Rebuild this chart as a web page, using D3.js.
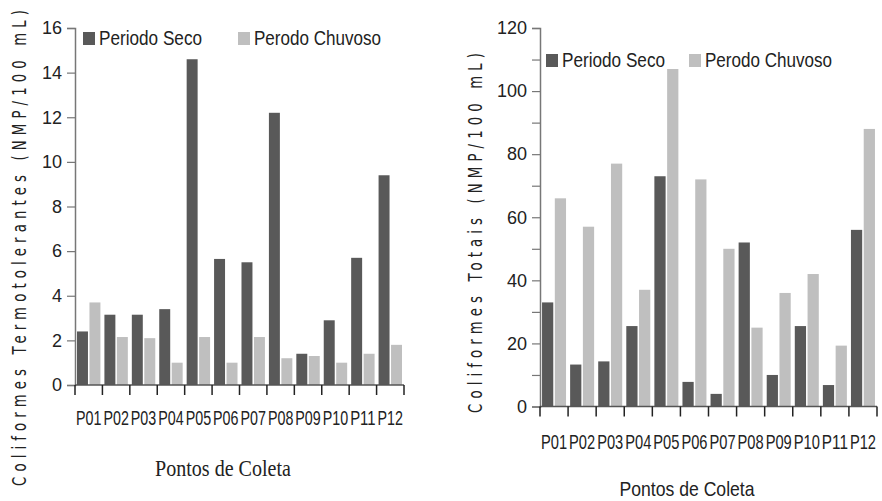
<!DOCTYPE html>
<html>
<head>
<meta charset="utf-8">
<script src="https://cdn.jsdelivr.net/npm/d3@7"></script>
<style>
  body { margin: 0; background: #fff; }
  .tick text { font-family: "Liberation Sans Narrow", "Liberation Sans", sans-serif; fill: #222; }
</style>
</head>
<body>
<svg id="chart" width="882" height="501"></svg>
<script>
// data
var pontos = ["P01","P02","P03","P04","P05","P06","P07","P08","P09","P10","P11","P12"];
var seriesNames = ["Periodo Seco", "Perodo Chuvoso"];
var termoSeco    = [2.4, 3.15, 3.15, 3.4, 14.6, 5.65, 5.5, 12.2, 1.4, 2.9, 5.7, 9.4];
var termoChuvoso = [3.7, 2.15, 2.1, 1.0, 2.15, 1.0, 2.15, 1.2, 1.3, 1.0, 1.4, 1.8];
var totaisSeco    = [33, 13.3, 14.3, 25.5, 73, 7.8, 4, 52, 10, 25.5, 6.8, 56];
var totaisChuvoso = [66, 57, 77, 37, 107, 72, 50, 25, 36, 42, 19.3, 88];
var termoTicks = [0, 2, 4, 6, 8, 10, 12, 14, 16];
var totaisTicks = [0, 10, 20, 30, 40, 50, 60, 70, 80, 90, 100, 110, 120];

var colors = ["#595959", "#bfbfbf"];
var svg = d3.select("#chart");

function drawBarChart(cfg) {
    var g = svg.append("g");

    var x = d3.scaleBand().domain(pontos).range([cfg.left, cfg.right]);
    var y = d3.scaleLinear().domain([0, cfg.max]).range([cfg.bottom, cfg.top]);
    var inner = d3.scaleBand().domain([0, 1])
        .range([0, x.bandwidth()]).paddingInner(0.12).paddingOuter(0.16);

    // bars
    [cfg.seco, cfg.chuvoso].forEach(function(vals, s) {
        g.append("g").selectAll("rect")
            .data(vals)
            .enter().append("rect")
            .attr("x", function(d, i) { return x(pontos[i]) + inner(s); })
            .attr("width", inner.bandwidth())
            .attr("y", function(d) { return y(d); })
            .attr("height", function(d) { return cfg.bottom - y(d); })
            .style("fill", colors[s]);
    });

    // y axis
    var yAxis = d3.axisLeft(y).tickValues(cfg.ticks).tickSize(8).tickPadding(5)
        .tickFormat(function(d) { return cfg.labelled(d) ? d : ""; });
    var ya = g.append("g")
        .attr("transform", "translate(" + cfg.left + ",0)")
        .call(yAxis);
    ya.select(".domain").attr("stroke", "#777").attr("stroke-width", 1.5);
    ya.selectAll(".tick line").attr("stroke", "#777").attr("stroke-width", 1.2);
    ya.selectAll(".tick text").style("font-size", "18px");

    // x axis
    var edges = pontos.map(function(p) { return x(p); }).concat([cfg.right]);
    g.append("line")
        .attr("x1", cfg.left).attr("x2", cfg.right)
        .attr("y1", cfg.bottom).attr("y2", cfg.bottom)
        .attr("stroke", "#555").attr("stroke-width", 1.5);
    g.append("g").selectAll("line")
        .data(edges)
        .enter().append("line")
        .attr("x1", function(d) { return d; }).attr("x2", function(d) { return d; })
        .attr("y1", cfg.bottom).attr("y2", cfg.bottom + 10)
        .attr("stroke", "#222").attr("stroke-width", 1.5);
    g.append("g").selectAll("text")
        .data(pontos)
        .enter().append("text")
        .attr("x", function(d) { return x(d) + x.bandwidth() / 2; })
        .attr("y", cfg.labelY)
        .attr("text-anchor", "middle")
        .attr("textLength", x.bandwidth() - 2)
        .attr("lengthAdjust", "spacingAndGlyphs")
        .style("font-family", "'Liberation Sans Narrow', 'Liberation Sans', sans-serif")
        .style("font-size", cfg.labelSize)
        .style("fill", "#222")
        .text(function(d) { return d; });

    // x title
    g.append("text")
        .attr("x", cfg.xTitleX).attr("y", cfg.xTitleY)
        .attr("text-anchor", "middle")
        .attr("textLength", cfg.xTitleLen)
        .attr("lengthAdjust", "spacingAndGlyphs")
        .style("font-family", cfg.xTitleFont)
        .style("font-size", cfg.xTitleSize)
        .style("fill", "#222")
        .text("Pontos de Coleta");

    // y title, glyphs squeezed along the text as in the reference
    g.append("text")
        .attr("transform", "translate(" + cfg.yTitleX + "," + cfg.yTitleY + ") rotate(-90) scale(0.7,1)")
        .attr("text-anchor", "middle")
        .attr("textLength", cfg.yTitleLen / 0.7)
        .attr("lengthAdjust", "spacing")
        .style("font-family", "'DejaVu Sans', Verdana, sans-serif")
        .style("font-size", "19px")
        .style("fill", "#222")
        .text(cfg.yTitle);

    // legend
    var legend = g.append("g").selectAll("g")
        .data(seriesNames)
        .enter().append("g")
        .attr("transform", function(d, i) { return "translate(" + cfg.legendX[i] + "," + cfg.legendY + ")"; });
    legend.append("rect")
        .attr("x", 0).attr("y", -13)
        .attr("width", 12).attr("height", 13)
        .style("fill", function(d, i) { return colors[i]; });
    legend.append("text")
        .attr("x", 16).attr("y", 0)
        .attr("textLength", function(d, i) { return cfg.legendLen[i]; })
        .attr("lengthAdjust", "spacingAndGlyphs")
        .style("font-family", "'Liberation Sans Narrow', 'Liberation Sans', sans-serif")
        .style("font-size", "20px")
        .style("fill", "#222")
        .text(function(d) { return d; });
}

drawBarChart({
    left: 75, right: 404, top: 28, bottom: 385, max: 16,
    seco: termoSeco, chuvoso: termoChuvoso, ticks: termoTicks,
    labelled: function() { return true; },
    labelY: 425, labelSize: "20px",
    xTitleX: 223, xTitleY: 476, xTitleLen: 136, xTitleSize: "23px",
    xTitleFont: "'Liberation Serif', serif",
    yTitle: "Coliformes Termotolerantes  (NMP/100 mL)",
    yTitleX: 26, yTitleY: 248, yTitleLen: 476,
    legendX: [83, 238], legendY: 45, legendLen: [103, 127]
});

drawBarChart({
    left: 540, right: 877, top: 28, bottom: 406.5, max: 120,
    seco: totaisSeco, chuvoso: totaisChuvoso, ticks: totaisTicks,
    labelled: function(d) { return d % 20 === 0; },
    labelY: 449, labelSize: "21px",
    xTitleX: 687, xTitleY: 496, xTitleLen: 135, xTitleSize: "21px",
    xTitleFont: "'Liberation Sans Narrow', 'Liberation Sans', sans-serif",
    yTitle: "Coliformes Totais (NMP/100 mL)",
    yTitleX: 482, yTitleY: 233, yTitleLen: 360,
    legendX: [546, 689], legendY: 67, legendLen: [103, 127]
});
</script>
</body>
</html>
